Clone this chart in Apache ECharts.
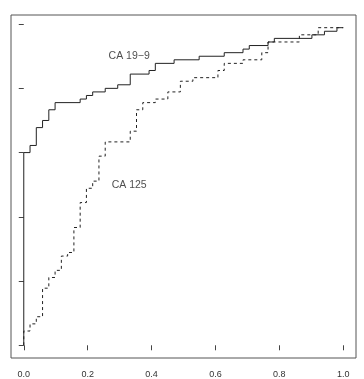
<!DOCTYPE html>
<html>
<head>
<meta charset="utf-8">
<script src="https://cdn.jsdelivr.net/npm/echarts@6/dist/echarts.min.js"></script>
<style>
html,body{margin:0;padding:0;background:#fff;}
#chart{width:364px;height:379px;}
</style>
</head>
<body>
<div id="chart"></div>
<script>
// CA 19-9 ROC curve (false positive fraction, true positive fraction) at step corners
const ca199Fpr = [0, 0, 0.0196, 0.0392, 0.0588, 0.0784, 0.0980, 0.1765, 0.1961, 0.2157, 0.2549, 0.2941, 0.3333, 0.3922, 0.4118, 0.4706, 0.5490, 0.6275, 0.6863, 0.7059, 0.7647, 0.7843, 0.9020, 0.9412, 0.9804, 1.0];
const ca199Tpr = [0, 0.6, 0.6222, 0.6778, 0.7, 0.7333, 0.7556, 0.7667, 0.7778, 0.7889, 0.8, 0.8111, 0.8444, 0.8556, 0.8778, 0.8889, 0.9, 0.9111, 0.9222, 0.9333, 0.9444, 0.9556, 0.9667, 0.9778, 0.9889, 0.9889];
// CA 125 ROC curve
const ca125Fpr = [0, 0, 0.0196, 0.0392, 0.0588, 0.0784, 0.0980, 0.1176, 0.1373, 0.1569, 0.1765, 0.1961, 0.2157, 0.2353, 0.2549, 0.3333, 0.3529, 0.3725, 0.4118, 0.4510, 0.4902, 0.5294, 0.6078, 0.6275, 0.6863, 0.7451, 0.7647, 0.8627, 0.9216, 1.0];
const ca125Tpr = [0, 0.0444, 0.0667, 0.0889, 0.1778, 0.2111, 0.2333, 0.2778, 0.2889, 0.3667, 0.4444, 0.4889, 0.5111, 0.5889, 0.6333, 0.6667, 0.7333, 0.7556, 0.7667, 0.7889, 0.8222, 0.8333, 0.8556, 0.8778, 0.8889, 0.9111, 0.9444, 0.9667, 0.9889, 0.9889];
// Text annotations
const noteText = ['CA 19\u22129', 'CA 125'];
const noteX = [0.33, 0.33];
const noteY = [0.9, 0.5];
// Ticks
const xTicks = [0, 0.2, 0.4, 0.6, 0.8, 1.0];
const yTicks = [0, 0.2, 0.4, 0.6, 0.8, 1.0];

const zip = (a, b) => a.map((v, i) => [v, b[i]]);
const chart = echarts.init(document.getElementById('chart'), null, {renderer: 'canvas'});
const lineCol = '#222';
chart.setOption({
  animation: false,
  grid: {left: 11, right: 8, top: 15, bottom: 19.5, show: true, borderColor: '#555', borderWidth: 1, backgroundColor: 'transparent'},
  xAxis: {
    type: 'value', min: -0.04, max: 1.04,
    axisLine: {show: false}, splitLine: {show: false},
    axisTick: {show: true, length: 5, customValues: xTicks, lineStyle: {color: '#444'}},
    axisLabel: {customValues: xTicks, formatter: v => v.toFixed(1), fontSize: 9, margin: 12, color: '#333', fontFamily: 'Liberation Sans'}
  },
  yAxis: {
    type: 'value', min: -0.0396, max: 1.0284,
    axisLine: {show: false}, splitLine: {show: false},
    axisTick: {show: true, length: 5, customValues: yTicks, lineStyle: {color: '#444'}},
    axisLabel: {show: false}
  },
  series: [
    {type: 'line', step: 'end', data: zip(ca199Fpr, ca199Tpr), showSymbol: false, symbol: 'none',
     lineStyle: {color: lineCol, width: 1}, silent: true},
    {type: 'line', step: 'end', data: zip(ca125Fpr, ca125Tpr), showSymbol: false, symbol: 'none',
     lineStyle: {color: lineCol, width: 1, type: [3, 3]}, silent: true},
    {type: 'scatter', data: noteX.map((x, i) => [x, noteY[i], noteText[i]]), symbolSize: 1,
     itemStyle: {color: 'rgba(0,0,0,0)'}, silent: true,
     label: {show: true, position: 'inside', formatter: p => p.data[2], fontSize: 10.5, color: '#222', fontFamily: 'Liberation Sans'}}
  ]
});
</script>
</body>
</html>
